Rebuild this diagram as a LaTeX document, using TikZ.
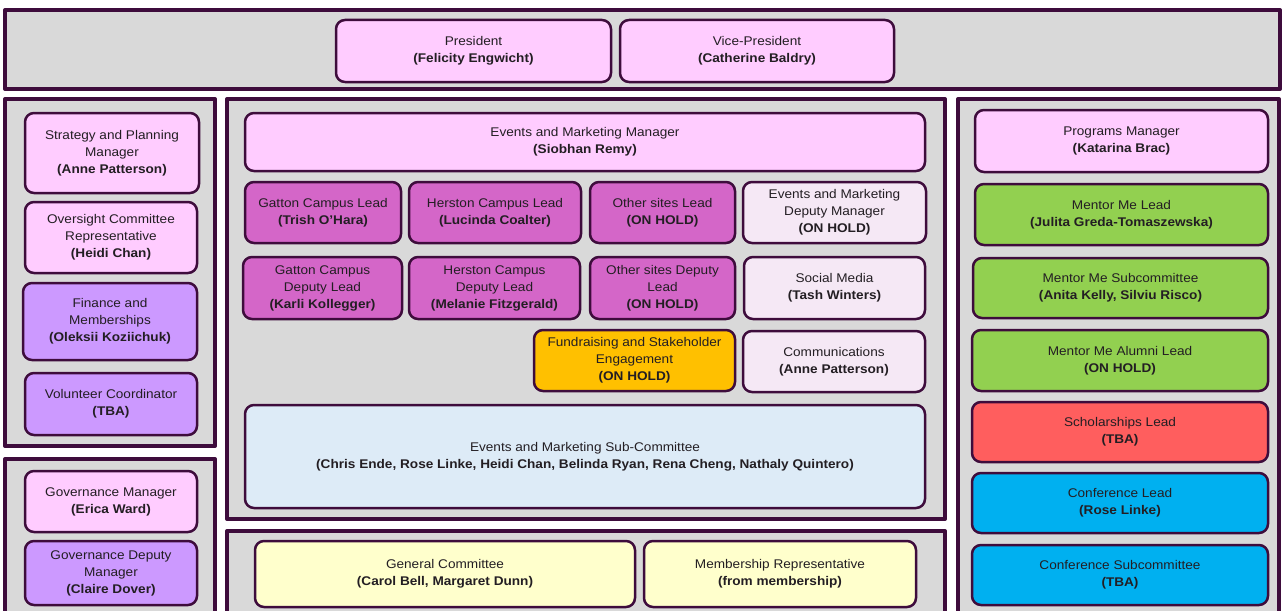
\documentclass[tikz,border=0pt]{standalone}
\usepackage{fontspec}
\setmainfont{Liberation Sans}[FakeStretch=1.08]

\definecolor{frameline}{RGB}{62,12,60}
\definecolor{framefill}{RGB}{217,217,217}
\definecolor{execpink}{RGB}{255,204,255}
\definecolor{lilac}{RGB}{204,153,255}
\definecolor{orchid}{RGB}{212,102,200}
\definecolor{palelilac}{RGB}{245,232,245}
\definecolor{amber}{RGB}{255,192,0}
\definecolor{paleblue}{RGB}{221,235,247}
\definecolor{paleyellow}{RGB}{255,255,204}
\definecolor{leafgreen}{RGB}{146,208,80}
\definecolor{coral}{RGB}{255,94,94}
\definecolor{skyblue}{RGB}{0,176,240}
\definecolor{inktext}{RGB}{35,30,35}

\tikzset{
  panel/.style={draw=frameline, line width=4pt, fill=framefill},
  role/.style={draw=frameline, line width=2.5pt, rounded corners=9pt,
    align=center, inner sep=0pt, text=inktext,
    font=\fontsize{12.6}{17}\selectfont},
}

\begin{document}
\begin{tikzpicture}[x=1pt, y=-1pt, line join=round]

  \clip (0,0) rectangle (1284,610);
  \fill[white] (0,0) rectangle (1284,610);

  % panels
  \draw[panel] (5,10) rectangle (1280,89);
  \draw[panel] (5,99) rectangle (215,446);
  \draw[panel] (5,459) rectangle (215,620);
  \draw[panel] (227,99) rectangle (945,519);
  \draw[panel] (227,531) rectangle (945,620);
  \draw[panel] (958,99) rectangle (1279,620);

  % executive
  \node[role, fill=execpink, minimum width=275, minimum height=62] (president) at (473.5,51) {President\\\textbf{(Felicity Engwicht)}};
  \node[role, fill=execpink, minimum width=274, minimum height=62] (vicepres) at (757,51) {Vice-President\\\textbf{(Catherine Baldry)}};

  % left column
  \node[role, fill=execpink, minimum width=174, minimum height=80] (strategy) at (112,153) {Strategy and Planning\\Manager\\\textbf{(Anne Patterson)}};
  \node[role, fill=execpink, minimum width=172, minimum height=71] (oversight) at (111,237.5) {Oversight Committee\\Representative\\\textbf{(Heidi Chan)}};
  \node[role, fill=lilac, minimum width=174, minimum height=77] (finance) at (110,321.5) {Finance and\\Memberships\\\textbf{(Oleksii Koziichuk)}};
  \node[role, fill=lilac, minimum width=172, minimum height=62] (volunteer) at (111,404) {Volunteer Coordinator\\\textbf{(TBA)}};
  \node[role, fill=execpink, minimum width=172, minimum height=61] (govmgr) at (111,501.5) {Governance Manager\\\textbf{(Erica Ward)}};
  \node[role, fill=lilac, minimum width=172, minimum height=64] (govdep) at (111,573) {Governance Deputy\\Manager\\\textbf{(Claire Dover)}};

  % events and marketing
  \node[role, fill=execpink, minimum width=680, minimum height=58] (emmgr) at (585,142) {Events and Marketing Manager\\\textbf{(Siobhan Remy)}};
  \node[role, fill=orchid, minimum width=156, minimum height=61] (gatton) at (323,212.5) {Gatton Campus Lead\\\textbf{(Trish O’Hara)}};
  \node[role, fill=orchid, minimum width=172, minimum height=61] (herston) at (495,212.5) {Herston Campus Lead\\\textbf{(Lucinda Coalter)}};
  \node[role, fill=orchid, minimum width=145, minimum height=61] (othersites) at (662.5,212.5) {Other sites Lead\\\textbf{(ON HOLD)}};
  \node[role, fill=palelilac, minimum width=183, minimum height=61] (emdeputy) at (834.5,212.5) {Events and Marketing\\Deputy Manager\\\textbf{(ON HOLD)}};
  \node[role, fill=orchid, minimum width=159, minimum height=62] (gattondep) at (322.5,288) {Gatton Campus\\Deputy Lead\\\textbf{(Karli Kollegger)}};
  \node[role, fill=orchid, minimum width=171, minimum height=62] (herstondep) at (494.5,288) {Herston Campus\\Deputy Lead\\\textbf{(Melanie Fitzgerald)}};
  \node[role, fill=orchid, minimum width=145, minimum height=62] (othersitesdep) at (662.5,288) {Other sites Deputy\\Lead\\\textbf{(ON HOLD)}};
  \node[role, fill=palelilac, minimum width=181, minimum height=62] (social) at (834.5,288) {Social Media\\\textbf{(Tash Winters)}};
  \node[role, fill=amber, minimum width=201, minimum height=61] (fundraising) at (634.5,360.5) {Fundraising and Stakeholder\\Engagement\\\textbf{(ON HOLD)}};
  \node[role, fill=palelilac, minimum width=182, minimum height=61] (comms) at (834,361.5) {Communications\\\textbf{(Anne Patterson)}};
  \node[role, fill=paleblue, minimum width=680, minimum height=103] (emsub) at (585,456.5) {Events and Marketing Sub-Committee\\\textbf{(Chris Ende, Rose Linke, Heidi Chan, Belinda Ryan, Rena Cheng, Nathaly Quintero)}};

  % general committee
  \node[role, fill=paleyellow, minimum width=380, minimum height=66] (general) at (445,574) {General Committee\\\textbf{(Carol Bell, Margaret Dunn)}};
  \node[role, fill=paleyellow, minimum width=272, minimum height=66] (memberrep) at (780,574) {Membership Representative\\\textbf{(from membership)}};

  % programs
  \node[role, fill=execpink, minimum width=293, minimum height=62] (progmgr) at (1121.5,141) {Programs Manager\\\textbf{(Katarina Brac)}};
  \node[role, fill=leafgreen, minimum width=293, minimum height=61] (mentorlead) at (1121.5,214.5) {Mentor Me Lead\\\textbf{(Julita Greda-Tomaszewska)}};
  \node[role, fill=leafgreen, minimum width=295, minimum height=60] (mentorsub) at (1120.5,288) {Mentor Me Subcommittee\\\textbf{(Anita Kelly, Silviu Risco)}};
  \node[role, fill=leafgreen, minimum width=296, minimum height=61] (alumni) at (1120,360.5) {Mentor Me Alumni Lead\\\textbf{(ON HOLD)}};
  \node[role, fill=coral, minimum width=296, minimum height=60] (scholar) at (1120,432) {Scholarships Lead\\\textbf{(TBA)}};
  \node[role, fill=skyblue, minimum width=296, minimum height=60] (conflead) at (1120,503) {Conference Lead\\\textbf{(Rose Linke)}};
  \node[role, fill=skyblue, minimum width=296, minimum height=60] (confsub) at (1120,575) {Conference Subcommittee\\\textbf{(TBA)}};

\end{tikzpicture}
\end{document}
